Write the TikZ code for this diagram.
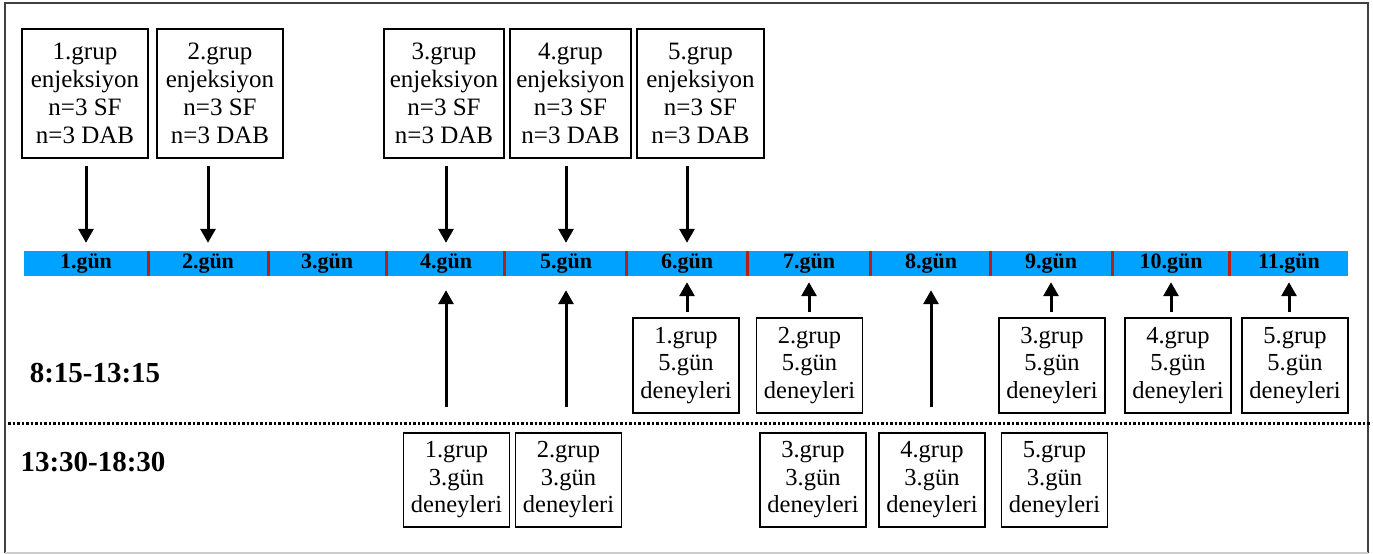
\documentclass[tikz,border=0pt]{standalone}
\usepackage{fontspec}
\setmainfont{Liberation Serif}
\usetikzlibrary{arrows.meta}
\definecolor{barblue}{RGB}{0,162,255}
\definecolor{sepred}{RGB}{185,30,20}
\begin{document}
\begin{tikzpicture}[x=1pt,y=-1pt,
  box/.style={draw, line width=1.5pt, inner sep=0pt, align=center,
    font=\fontsize{25}{28}\selectfont},
  topbox/.style={box, minimum height=129pt},
  expbox/.style={box, minimum width=106pt, minimum height=95pt,
    font=\fontsize{24.5}{27.5}\selectfont},
  day/.style={inner sep=0pt, minimum height=25pt, font=\bfseries\fontsize{22}{24}\selectfont},
  slot/.style={inner sep=0pt, font=\bfseries\fontsize{29}{32}\selectfont},
  arr/.style={line width=3pt, -{Triangle[width=15pt,length=14pt]}},
  sep/.style={sepred, line width=3pt}
]
\useasboundingbox (0,0) rectangle (1373,554);
% frame
\draw[line width=1.5pt, black!75] (5,553) -- (5,3) -- (1368,3) -- (1368,553);
\draw[line width=1.5pt, black!20] (5,553) -- (1368,553);
% timeline bar
\fill[barblue] (24,251) rectangle (1348,276);
\foreach \x in {148,268,386,504,626,747,870,990,1112,1229}
  \draw[sep] (\x,251) -- (\x,276);
\node[day] (d1) at (86,263.5) {1.gün};
\node[day] (d2) at (208,263.5) {2.gün};
\node[day] (d3) at (327,263.5) {3.gün};
\node[day] (d4) at (446,263.5) {4.gün};
\node[day] (d5) at (566,263.5) {5.gün};
\node[day] (d6) at (687,263.5) {6.gün};
\node[day] (d7) at (809,263.5) {7.gün};
\node[day] (d8) at (931,263.5) {8.gün};
\node[day] (d9) at (1051,263.5) {9.gün};
\node[day] (d10) at (1171,263.5) {10.gün};
\node[day] (d11) at (1289,263.5) {11.gün};
% injection boxes
\node[topbox, minimum width=126pt] (t1) at (85,93.5) {1.grup\\enjeksiyon\\n=3 SF\\n=3 DAB};
\node[topbox, minimum width=126pt] (t2) at (220,93.5) {2.grup\\enjeksiyon\\n=3 SF\\n=3 DAB};
\node[topbox, minimum width=120pt] (t3) at (444,93.5) {3.grup\\enjeksiyon\\n=3 SF\\n=3 DAB};
\node[topbox, minimum width=121pt] (t4) at (570.5,93.5) {4.grup\\enjeksiyon\\n=3 SF\\n=3 DAB};
\node[topbox, minimum width=127pt] (t5) at (700.5,93.5) {5.grup\\enjeksiyon\\n=3 SF\\n=3 DAB};
\foreach \t/\d in {t1/d1,t2/d2,t3/d4,t4/d5,t5/d6}
  \draw[arr, shorten <=7pt, shorten >=8pt] (\t.south -| \d) -- (\d.north);
% slot labels
\node[slot] (s1) at (95,373) {8:15-13:15};
\node[slot] (s2) at (93,462) {13:30-18:30};
\draw[line width=3pt, dash pattern=on 2.5pt off 2pt] (8,423) -- (1371,423);
% 5th-day experiments
\node[expbox] (f1) at (686,365.5) {1.grup\\5.gün\\deneyleri};
\node[expbox] (f2) at (809.5,365.5) {2.grup\\5.gün\\deneyleri};
\node[expbox] (f3) at (1052,365.5) {3.grup\\5.gün\\deneyleri};
\node[expbox] (f4) at (1178,365.5) {4.grup\\5.gün\\deneyleri};
\node[expbox] (f5) at (1295,365.5) {5.grup\\5.gün\\deneyleri};
\foreach \f/\d in {f1/d6,f2/d7,f3/d9,f4/d10,f5/d11}
  \draw[arr, shorten <=5pt, shorten >=6pt] (\f.north -| \d) -- (\d.south);
% 3rd-day experiments
\node[expbox, minimum height=94pt] (g1) at (456.5,480) {1.grup\\3.gün\\deneyleri};
\node[expbox, minimum height=94pt] (g2) at (568.5,480) {2.grup\\3.gün\\deneyleri};
\node[expbox, minimum height=94pt] (g3) at (813,480) {3.grup\\3.gün\\deneyleri};
\node[expbox, minimum height=94pt] (g4) at (932,480) {4.grup\\3.gün\\deneyleri};
\node[expbox, minimum height=94pt] (g5) at (1054.5,480) {5.grup\\3.gün\\deneyleri};
\foreach \g/\d in {g1/d4,g2/d5,g4/d8}
  \draw[arr, shorten <=25pt, shorten >=14pt] (\g.north -| \d) -- (\d.south);
\end{tikzpicture}
\end{document}
